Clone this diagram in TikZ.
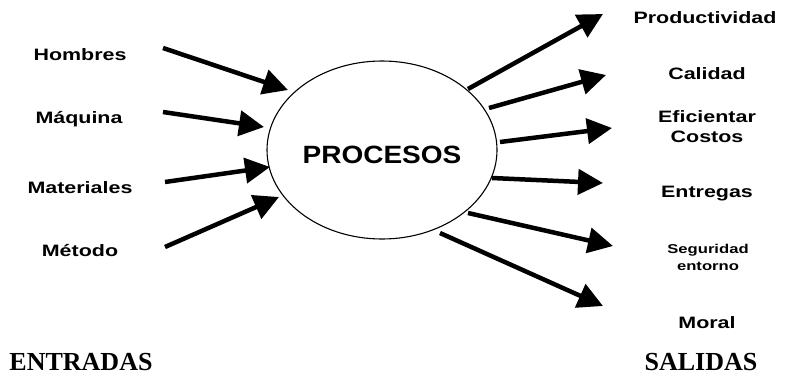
\documentclass[tikz,border=0pt]{standalone}
\usepackage{fontspec}
\usetikzlibrary{arrows.meta,shapes.geometric}
\newfontfamily\labfont[FakeStretch=1.3]{Liberation Sans}
\newfontfamily\procfont[FakeStretch=1.12]{Liberation Sans}
\newfontfamily\headfont{Liberation Serif}
\tikzset{
  lab/.style={font=\labfont\bfseries\fontsize{16.5}{20}\selectfont, align=center, inner sep=0pt},
  smalllab/.style={font=\labfont\bfseries\fontsize{12.8}{17}\selectfont, align=center, inner sep=0pt},
  head/.style={font=\headfont\bfseries\fontsize{26}{28}\selectfont, inner sep=0pt},
  flow/.style={line width=4.5pt, -{Triangle[length=25pt,width=25pt]}},
}
\begin{document}
\begin{tikzpicture}[x=1pt,y=-1pt]
\useasboundingbox (0,0) rectangle (786,378);
% central process
\node[draw, ellipse, line width=1.1pt, minimum width=230pt, minimum height=178pt, inner sep=0pt] (proc) at (382,150) {};
\node[font=\procfont\bfseries\fontsize{25}{28}\selectfont, inner sep=0pt] (proct) at (382,155) {PROCESOS};
% inputs
\node[lab] (hom) at (80,55) {Hombres};
\node[lab] (maq) at (79,119) {Máquina};
\node[lab] (mat) at (80,188) {Materiales};
\node[lab] (met) at (80,251) {Método};
% outputs
\node[lab] (pro) at (705,18) {Productividad};
\node[lab] (cal) at (707,74) {Calidad};
\node[lab] (efi) at (707,127) {Eficientar\\Costos};
\node[lab] (ent) at (707,194) {Entregas};
\node[smalllab] (seg) at (708,257) {Seguridad\\entorno};
\node[lab] (mor) at (707,323) {Moral};
% headings
\node[head] (entr) at (81,362) {ENTRADAS};
\node[head] (sal) at (701,362) {SALIDAS};
% arrow end points
\coordinate (i1s) at (163,48);  \coordinate (i1e) at (288,90);
\coordinate (i2s) at (163,112); \coordinate (i2e) at (264,127);
\coordinate (i3s) at (165,182); \coordinate (i3e) at (270,167);
\coordinate (i4s) at (165,247); \coordinate (i4e) at (279,197);
\coordinate (o1s) at (468,89);  \coordinate (o1e) at (603,14);
\coordinate (o2s) at (489,108); \coordinate (o2e) at (606,75);
\coordinate (o3s) at (500,142); \coordinate (o3e) at (612,128);
\coordinate (o4s) at (492,178); \coordinate (o4e) at (603,183);
\coordinate (o5s) at (468,213); \coordinate (o5e) at (613,246);
\coordinate (o6s) at (440,233); \coordinate (o6e) at (603,306);
\foreach \a in {i1,i2,i3,i4,o1,o2,o3,o4,o5,o6}
  \draw[flow] (\a s) -- (\a e);
\end{tikzpicture}
\end{document}
